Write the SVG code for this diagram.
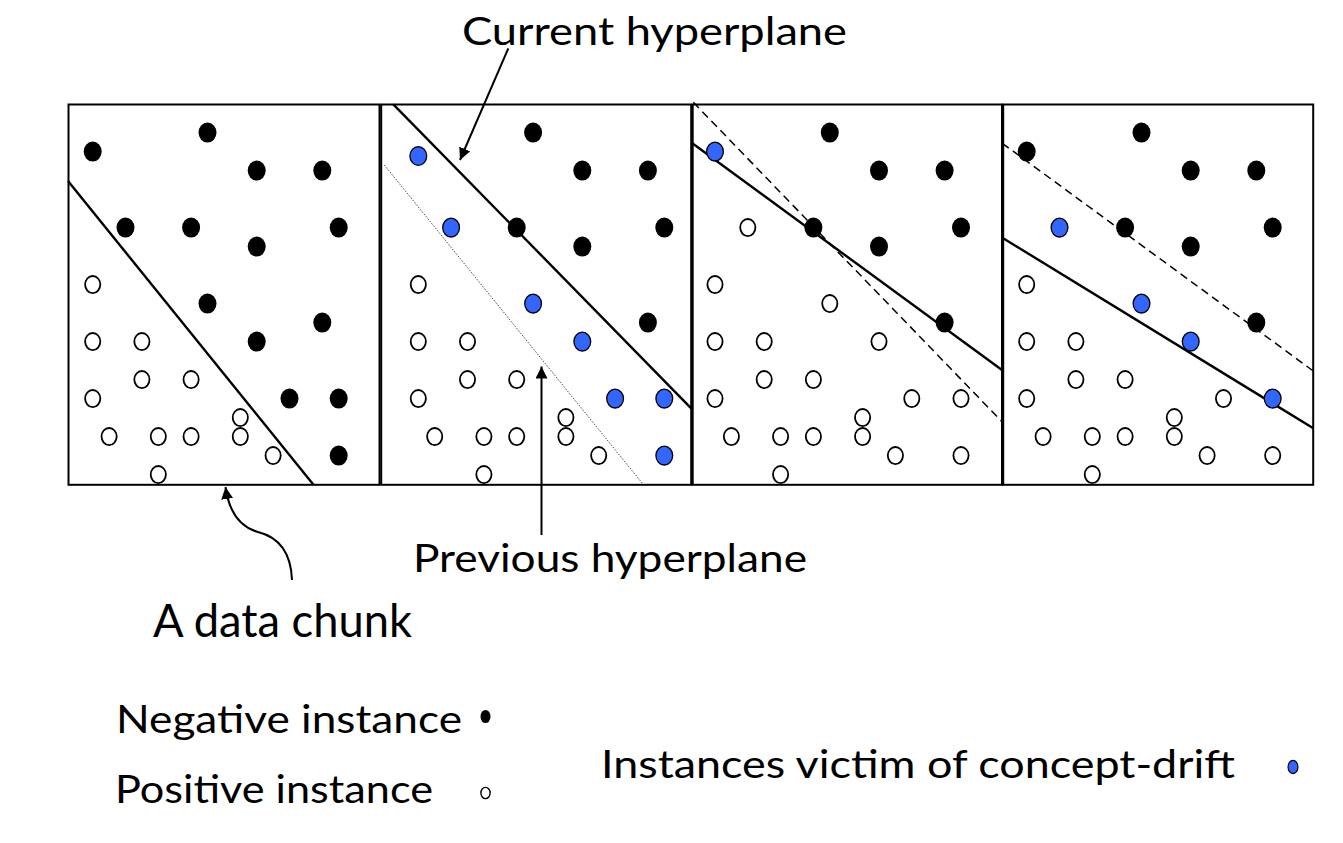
<svg xmlns="http://www.w3.org/2000/svg" xmlns:xlink="http://www.w3.org/1999/xlink" width="1343" height="843" viewBox="0 0 1343 843">
<style>
.frame{fill:none;stroke:#000;stroke-width:2}
.hp{stroke:#000;stroke-width:2.4;fill:none}
.dash{stroke:#000;stroke-width:1.5;fill:none;stroke-dasharray:8 5}
.dot{stroke:#333;stroke-width:0.9;fill:none;stroke-dasharray:1.5 1.5}
.neg{fill:#000}
.pos{fill:#fff;stroke:#000;stroke-width:1.8}
.vic{fill:#3366ff;stroke:#000;stroke-width:1.3}
.arr{stroke:#000;stroke-width:2;fill:none}
.lbl{font-family:Lato,"Open Sans","Liberation Sans",sans-serif;font-size:39px;fill:#000}
</style>
<defs>
<ellipse id="n" class="neg" rx="9" ry="10"/>
<ellipse id="p" class="pos" rx="7.6" ry="8.6"/>
<ellipse id="b" class="vic" rx="8.4" ry="9.4"/>
<marker id="ah" viewBox="0 0 12 12" refX="12" refY="6" markerWidth="12" markerHeight="12" markerUnits="userSpaceOnUse" orient="auto">
<path d="M0,0 L12,6 L0,12 z" fill="#000"/>
</marker>
</defs>

<g id="chunk1">
<rect class="frame" x="68.5" y="104.5" width="311" height="380.3"/>
<line class="hp" x1="68" y1="181" x2="313.5" y2="484.8"/>
<use href="#n" x="92.7" y="151.6"/><use href="#n" x="207.5" y="132.6"/><use href="#n" x="256.7" y="170.6"/><use href="#n" x="322.3" y="170.6"/>
<use href="#n" x="125.5" y="227.6"/><use href="#n" x="191.1" y="227.6"/><use href="#n" x="338.7" y="227.6"/><use href="#n" x="256.7" y="246.6"/>
<use href="#n" x="207.5" y="303.6"/><use href="#n" x="322.3" y="322.6"/><use href="#n" x="256.7" y="341.6"/><use href="#n" x="289.5" y="398.6"/>
<use href="#n" x="338.7" y="398.6"/><use href="#n" x="338.7" y="455.6"/>
<use href="#p" x="92.7" y="284.6"/><use href="#p" x="92.7" y="341.6"/><use href="#p" x="141.9" y="341.6"/><use href="#p" x="141.9" y="379.6"/>
<use href="#p" x="191.1" y="379.6"/><use href="#p" x="92.7" y="398.6"/><use href="#p" x="240.3" y="417.6"/><use href="#p" x="109.1" y="436.6"/>
<use href="#p" x="158.3" y="436.6"/><use href="#p" x="191.1" y="436.6"/><use href="#p" x="240.3" y="436.6"/><use href="#p" x="273.1" y="455.6"/>
<use href="#p" x="158.3" y="474.6"/>
</g>

<g id="chunk2">
<rect class="frame" x="381.2" y="104.5" width="310" height="380.3"/>
<line class="hp" x1="393.3" y1="104.3" x2="691.2" y2="408.3"/>
<line class="dot" x1="384.3" y1="165" x2="643.3" y2="484.5"/>
<use href="#n" x="533.1" y="132.6"/><use href="#n" x="582.3" y="170.6"/><use href="#n" x="647.9" y="170.6"/><use href="#n" x="516.7" y="227.6"/>
<use href="#n" x="664.3" y="227.6"/><use href="#n" x="582.3" y="246.6"/><use href="#n" x="647.9" y="322.6"/>
<use href="#b" x="418.3" y="156"/><use href="#b" x="451.1" y="227.6"/><use href="#b" x="533.1" y="303.6"/><use href="#b" x="582.3" y="341.6"/>
<use href="#b" x="615.1" y="398.6"/><use href="#b" x="664.3" y="398.6"/><use href="#b" x="664.3" y="455.6"/>
<use href="#p" x="418.3" y="284.6"/><use href="#p" x="418.3" y="341.6"/><use href="#p" x="467.5" y="341.6"/><use href="#p" x="467.5" y="379.6"/>
<use href="#p" x="516.7" y="379.6"/><use href="#p" x="418.3" y="398.6"/><use href="#p" x="565.9" y="417.6"/><use href="#p" x="434.7" y="436.6"/>
<use href="#p" x="483.9" y="436.6"/><use href="#p" x="516.7" y="436.6"/><use href="#p" x="565.9" y="436.6"/><use href="#p" x="598.7" y="455.6"/>
<use href="#p" x="483.9" y="474.6"/>
</g>

<g id="chunk3">
<rect class="frame" x="692.7" y="104.5" width="309.3" height="380.3"/>
<line class="dash" x1="693.3" y1="102.3" x2="1002" y2="421.7"/>
<line class="hp" x1="692.3" y1="143.3" x2="1002" y2="370"/>
<use href="#n" x="829.8" y="132.6"/><use href="#n" x="879" y="170.6"/><use href="#n" x="944.6" y="170.6"/><use href="#n" x="813.4" y="227.6"/>
<use href="#n" x="961" y="227.6"/><use href="#n" x="879" y="246.6"/><use href="#n" x="944.6" y="322.6"/>
<use href="#b" x="715" y="151.6"/>
<use href="#p" x="747.8" y="227.6"/><use href="#p" x="715" y="284.6"/><use href="#p" x="829.8" y="303.6"/><use href="#p" x="715" y="341.6"/>
<use href="#p" x="764.2" y="341.6"/><use href="#p" x="879" y="341.6"/><use href="#p" x="764.2" y="379.6"/><use href="#p" x="813.4" y="379.6"/>
<use href="#p" x="715" y="398.6"/><use href="#p" x="911.8" y="398.6"/><use href="#p" x="961" y="398.6"/><use href="#p" x="862.6" y="417.6"/>
<use href="#p" x="731.4" y="436.6"/><use href="#p" x="780.6" y="436.6"/><use href="#p" x="813.4" y="436.6"/><use href="#p" x="862.6" y="436.6"/>
<use href="#p" x="895.4" y="455.6"/><use href="#p" x="961" y="455.6"/><use href="#p" x="780.6" y="474.6"/>
</g>

<g id="chunk4">
<rect class="frame" x="1003.2" y="104.5" width="310" height="380.3"/>
<line class="dash" x1="1002.3" y1="143.3" x2="1313.3" y2="371"/>
<line class="hp" x1="1002.3" y1="237.7" x2="1313.3" y2="428.3"/>
<use href="#n" x="1141.5" y="132.6"/><use href="#n" x="1026.7" y="151.6"/><use href="#n" x="1190.7" y="170.6"/><use href="#n" x="1256.3" y="170.6"/>
<use href="#n" x="1125.1" y="227.6"/><use href="#n" x="1272.7" y="227.6"/><use href="#n" x="1190.7" y="246.6"/><use href="#n" x="1256.3" y="322.6"/>
<use href="#b" x="1059.5" y="227.6"/><use href="#b" x="1141.5" y="303.6"/><use href="#b" x="1190.7" y="341.6"/><use href="#b" x="1272.7" y="398.6"/>
<use href="#p" x="1026.7" y="284.6"/><use href="#p" x="1026.7" y="341.6"/><use href="#p" x="1075.9" y="341.6"/><use href="#p" x="1075.9" y="379.6"/>
<use href="#p" x="1125.1" y="379.6"/><use href="#p" x="1026.7" y="398.6"/><use href="#p" x="1223.5" y="398.6"/><use href="#p" x="1174.3" y="417.6"/>
<use href="#p" x="1043.1" y="436.6"/><use href="#p" x="1092.3" y="436.6"/><use href="#p" x="1125.1" y="436.6"/><use href="#p" x="1174.3" y="436.6"/>
<use href="#p" x="1207.1" y="455.6"/><use href="#p" x="1272.7" y="455.6"/><use href="#p" x="1092.3" y="474.6"/>
</g>

<g id="connectors">
<path class="arr" d="M508.3,48.3 L460,160" marker-end="url(#ah)"/>
<path class="arr" d="M541.5,535 L541.5,366.5" marker-end="url(#ah)"/>
<path class="arr" d="M292,580 C291,552 278,537 258,532 C240,527 229,512 225.5,487" marker-end="url(#ah)"/>
</g>

<g id="labels">
<text class="lbl" x="462" y="44.5" textLength="385" lengthAdjust="spacingAndGlyphs">Current hyperplane</text>
<text class="lbl" x="413" y="572" textLength="394" lengthAdjust="spacingAndGlyphs">Previous hyperplane</text>
<text class="lbl" x="153" y="636.5" style="font-size:46px" textLength="259" lengthAdjust="spacingAndGlyphs">A data chunk</text>
</g>

<g id="legend">
<text class="lbl" x="116" y="733" textLength="346" lengthAdjust="spacingAndGlyphs">Negative instance</text>
<ellipse class="neg" cx="485.5" cy="716.5" rx="5" ry="6.6"/>
<text class="lbl" x="115" y="803" textLength="318" lengthAdjust="spacingAndGlyphs">Positive instance</text>
<ellipse class="pos" cx="485.5" cy="793" rx="4.6" ry="5.6" style="stroke-width:1.4"/>
<text class="lbl" x="601" y="778" textLength="634" lengthAdjust="spacingAndGlyphs">Instances victim of concept-drift</text>
<ellipse class="vic" cx="1293" cy="767" rx="5" ry="6.6" style="stroke-width:1.1"/>
</g>
</svg>
